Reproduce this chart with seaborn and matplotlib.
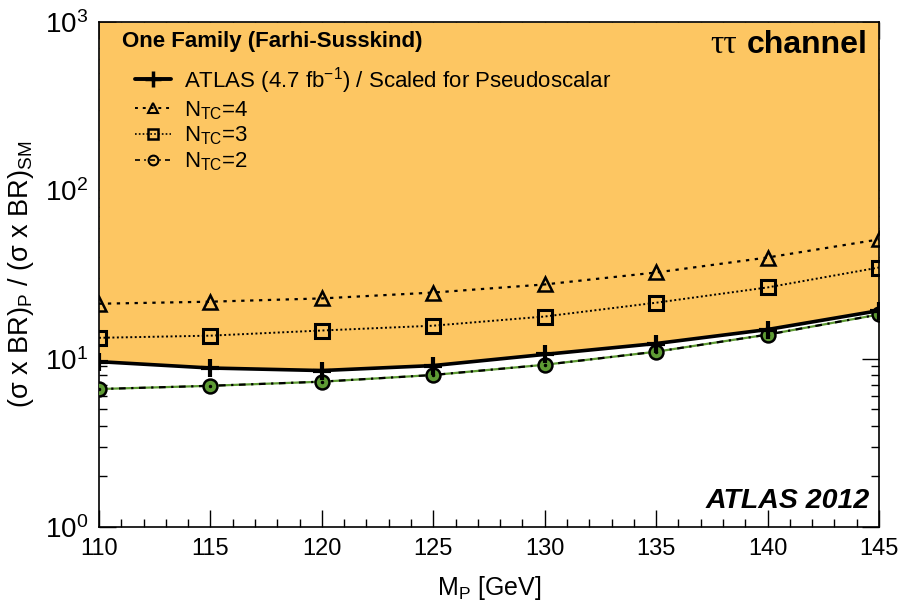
import matplotlib
matplotlib.use("Agg")
import matplotlib.pyplot as plt
import seaborn as sns
import numpy as np
import pandas as pd
from matplotlib.lines import Line2D
from matplotlib.ticker import LogLocator, MultipleLocator, NullFormatter

# ---- data ----
mass = [110, 115, 120, 125, 130, 135, 140, 145]
atlas = [9.6, 8.8, 8.5, 9.1, 10.6, 12.3, 14.9, 19.3]
ntc4 = [21.2, 21.8, 22.8, 24.7, 27.6, 32.5, 39.9, 51.1]
ntc3 = [13.3, 13.7, 14.7, 15.7, 17.8, 21.5, 26.5, 34.8]
ntc2 = [6.6, 6.9, 7.3, 8.0, 9.2, 11.0, 13.9, 18.3]
xticks = [110, 115, 120, 125, 130, 135, 140, 145]

sns.set_theme(style="ticks")
plt.rcParams['font.family'] = ['Liberation Sans', 'DejaVu Sans']
plt.rcParams['mathtext.fontset'] = 'custom'
plt.rcParams['mathtext.rm'] = 'Liberation Sans'
plt.rcParams['mathtext.it'] = 'Liberation Sans:italic'
plt.rcParams['mathtext.bf'] = 'Liberation Sans:bold'
for k in ['text.color', 'axes.labelcolor', 'xtick.color', 'ytick.color', 'axes.edgecolor']:
    plt.rcParams[k] = 'black'

fig = plt.figure(figsize=(9.07, 6.05), dpi=100)
ax = fig.add_axes([99/907, 1-527/605, 780/907, 505/605])

orange = '#FDC662'
green = '#5E9B34'

ax.fill_between(mass, atlas, 1000, color=orange, lw=0, zorder=1)

df = pd.DataFrame({'M': mass, 'atlas': atlas, 'n4': ntc4, 'n3': ntc3, 'n2': ntc2})

sns.lineplot(data=df, x='M', y='n4', ax=ax, color='black', lw=1.6, linestyle=(0, (1.5, 2.5)),
             marker='^', markersize=10, markerfacecolor='none', markeredgecolor='black',
             markeredgewidth=1.8, zorder=4)
sns.lineplot(data=df, x='M', y='n3', ax=ax, color='black', lw=1.4, linestyle=(0, (1, 1.3)),
             marker='s', markersize=10, markerfacecolor='none', markeredgecolor='black',
             markeredgewidth=2.2, zorder=4)
sns.lineplot(data=df, x='M', y='atlas', ax=ax, color='black', lw=2.6, linestyle='-',
             marker='+', markersize=13, markeredgewidth=3, markeredgecolor='black', zorder=5)
sns.lineplot(data=df, x='M', y='n2', ax=ax, color=green, lw=1.6, linestyle='-',
             zorder=3)
sns.lineplot(data=df, x='M', y='n2', ax=ax, color='black', lw=1.6, linestyle=(0, (3, 2.5, 1, 2.5)),
             marker='o', markersize=10, markerfacecolor=green, markeredgecolor='black',
             markeredgewidth=1.8, zorder=4)
ax.plot(mass, ntc2, linestyle='none', marker='.', markersize=3, color='black', zorder=6)

ax.set_yscale('log')
ax.set_xlim(110, 145)
ax.set_ylim(1, 1000)
ax.set_xticks(xticks)
ax.set_xticklabels([str(v) for v in xticks])
ax.xaxis.set_minor_locator(MultipleLocator(1))
ax.yaxis.set_minor_locator(LogLocator(base=10, subs=np.arange(2, 10), numticks=20))
ax.yaxis.set_minor_formatter(NullFormatter())
ax.set_yticks([1, 10, 100, 1000])
ax.set_yticklabels([r'$10^0$', r'$10^1$', r'$10^2$', r'$10^3$'])

ax.tick_params(which='both', direction='in', top=True, right=True, color='black')
ax.tick_params(which='major', length=12, width=1, labelsize=17, pad=8)
ax.tick_params(which='minor', length=6, width=1)
ax.tick_params(axis='y', which='major', labelsize=20)
for s in ax.spines.values():
    s.set_color('black')
    s.set_linewidth(1.2)

ax.set_xlabel(r'M$_{\rm P}$ [GeV]', fontsize=18, labelpad=10)
ax.set_ylabel(r'(σ x BR)$_{\rm P}$ / (σ x BR)$_{\rm SM}$', fontsize=19.5, labelpad=6)

ax.text(0.03, 0.983, 'One Family (Farhi-Susskind)', transform=ax.transAxes,
        fontsize=16, fontweight='bold', ha='left', va='top', zorder=10)
ch = ax.text(0.985, 0.985, 'channel', transform=ax.transAxes,
             fontsize=23, fontweight='bold', ha='right', va='top', zorder=10)
ax.annotate('ττ', xy=(0, 0), xycoords=ch, xytext=(-7, 0), textcoords='offset points',
            ha='right', va='bottom', fontsize=24, family='Liberation Serif', zorder=10)
ax.text(0.988, 0.025, 'ATLAS 2012', transform=ax.transAxes, fontsize=20.5,
        fontweight='bold', fontstyle='italic', ha='right', va='bottom', zorder=10)

handles = [
    Line2D([], [], color='black', lw=2.8, marker='+', markersize=11, markeredgewidth=2.5),
    Line2D([], [], color='black', lw=1.4, linestyle=(0, (1.5, 2.5)), marker='^', markersize=7,
           markerfacecolor='none', markeredgewidth=1.5),
    Line2D([], [], color='black', lw=1.2, linestyle=(0, (1, 1.3)), marker='s', markersize=7,
           markerfacecolor='none', markeredgewidth=1.8),
    Line2D([], [], color='black', lw=1.2, linestyle=(0, (3, 2.5, 1, 2.5)), marker='o', markersize=7,
           markerfacecolor='none', markeredgewidth=1.5),
]
labels = [r'ATLAS (4.7 fb$^{-1}$) / Scaled for Pseudoscalar', r'N$_{\rm TC}$=4',
          r'N$_{\rm TC}$=3', r'N$_{\rm TC}$=2']
leg = ax.legend(handles, labels, loc='upper left', bbox_to_anchor=(0.035, 0.933),
                frameon=False, fontsize=16, handlelength=1.6, handletextpad=0.6,
                labelspacing=0.15, borderaxespad=0)
leg.set_zorder(10)

fig.savefig('out.png', dpi=100)
